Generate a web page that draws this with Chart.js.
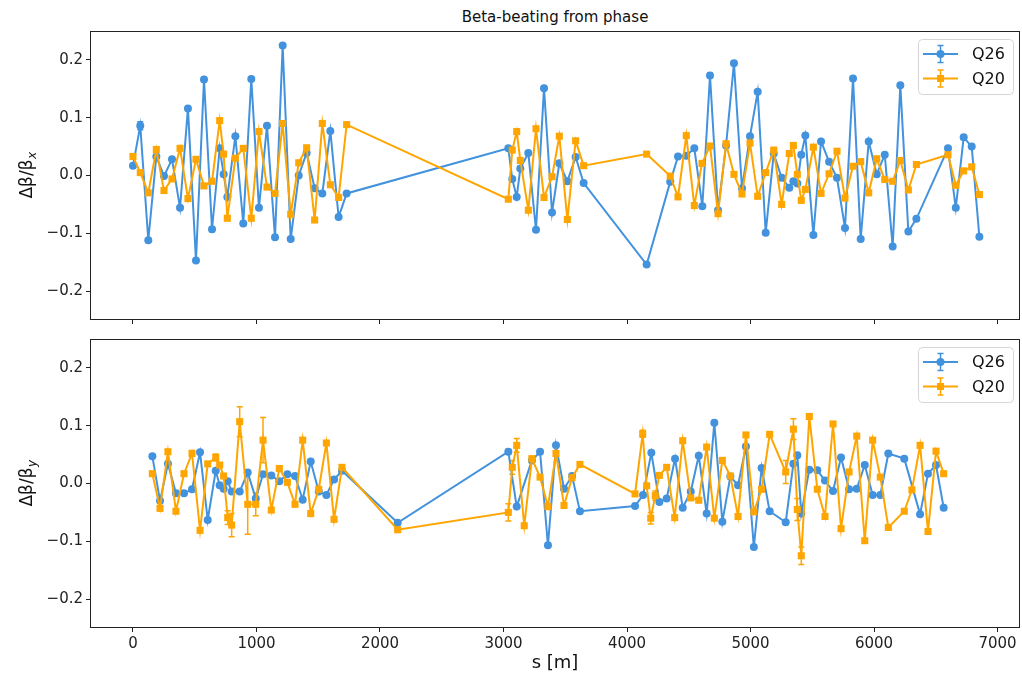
<!DOCTYPE html>
<html>
<head>
<meta charset="utf-8">
<script src="https://cdn.jsdelivr.net/npm/chart.js@4.4.1/dist/chart.umd.min.js"></script>
<style>
html,body{margin:0;padding:0;background:#fff;}
#wrap{position:relative;width:1022px;height:680px;overflow:hidden;font-family:"DejaVu Sans",sans-serif;}
#title{position:absolute;left:90px;width:930px;top:7px;line-height:20px;text-align:center;font-size:15px;color:#111;}
canvas{position:absolute;left:0;}
#c1{top:0;}
#c2{top:330px;}
</style>
</head>
<body>
<div id="wrap">
  <div id="title">Beta-beating from phase</div>
  <canvas id="c1" width="1025" height="330"></canvas>
  <canvas id="c2" width="1025" height="350"></canvas>
</div>
<script>
// ---------- data ----------
const xTicks = [0, 1000, 2000, 3000, 4000, 5000, 6000, 7000];
const yTicks = [-0.2, -0.1, 0.0, 0.1, 0.2];
const seriesNames = ['Q26', 'Q20'];

// horizontal plane (top)
const sX_Q26 = [0,59,124,189,251,316,381,445,510,575,640,702,734,764,829,893,958,1020,1085,1150,1212,1277,1342,1406,1471,1533,1598,1665,1730,
  3039,3071,3107,3136,3201,3263,3328,3393,3452,3517,3584,3649,4159,4350,4413,4480,4545,4610,4672,4737,4802,4866,4931,4996,5058,5123,5188,5252,
  5314,5347,5379,5411,5444,5509,5571,5636,5700,5765,5830,5892,5957,6022,6087,6151,6213,6278,6343,6599,6662,6726,6791,6853];
const bX_Q26 = [0.017,0.086,-0.112,0.033,-0.001,0.028,-0.056,0.116,-0.147,0.166,-0.093,0.047,0.002,-0.037,0.068,-0.083,0.167,-0.056,0.086,-0.107,0.225,-0.110,0.000,0.039,-0.022,-0.031,0.077,-0.072,-0.031,
  0.047,-0.006,-0.037,0.012,0.039,-0.094,0.151,-0.064,0.021,-0.010,0.032,-0.013,-0.154,-0.011,0.033,0.034,0.047,-0.053,0.173,-0.060,0.052,0.194,-0.022,0.068,0.145,-0.099,0.038,-0.004,
  -0.021,-0.010,-0.014,0.036,0.069,-0.103,0.059,0.024,-0.004,-0.091,0.168,-0.110,0.059,0.002,0.036,-0.123,0.156,-0.097,-0.075,0.047,-0.056,0.066,0.050,-0.106];
const sX_Q20 = [0,59,124,189,251,316,381,445,510,575,640,702,734,764,829,893,958,1020,1085,1150,1212,1277,1342,1406,1471,1533,1598,1665,1730,
  3039,3071,3107,3136,3201,3263,3328,3393,3452,3517,3584,3649,4159,4350,4413,4480,4545,4607,4672,4737,4802,4866,4931,4996,5058,5123,5188,5252,
  5314,5347,5379,5411,5444,5509,5571,5636,5700,5765,5830,5892,5957,6022,6087,6151,6213,6278,6343,6599,6662,6726,6791,6853];
const bX_Q20 = [0.033,0.005,-0.030,0.045,-0.026,-0.006,0.047,-0.040,0.028,-0.018,-0.010,0.095,0.037,-0.074,0.030,0.047,-0.074,0.076,-0.020,-0.031,0.090,-0.067,0.022,0.048,-0.077,0.090,-0.016,-0.038,0.088,
  -0.041,0.044,0.076,0.026,-0.060,0.081,-0.038,-0.002,0.068,-0.076,0.060,0.017,0.037,-0.001,-0.037,0.069,-0.052,0.021,0.051,-0.066,0.055,0.002,-0.032,0.056,-0.036,0.005,0.044,-0.050,
  0.038,0.052,0.002,-0.043,-0.024,0.049,-0.031,0.003,0.042,-0.039,0.016,0.024,-0.030,0.029,-0.007,-0.010,0.026,-0.025,0.019,0.036,-0.017,0.008,0.015,-0.033];

// vertical plane (bottom)
const sY_Q26 = [157,219,283,348,413,478,543,605,670,702,734,767,799,864,929,994,1053,1120,1185,1250,1312,1374,1439,1504,1566,1628,1692,2143,
  3039,3107,3230,3296,3360,3425,3490,3555,3619,4065,4130,4197,4262,4321,4389,4451,4516,4581,4645,4707,4772,4837,4899,4963,5027,5090,5155,5285,
  5347,5379,5411,5476,5541,5603,5668,5733,5798,5860,5925,5989,6051,6116,6245,6373,6437,6502,6564];
const bY_Q26 = [0.047,-0.030,0.034,-0.017,-0.017,-0.010,0.054,-0.063,0.022,-0.003,-0.009,0.004,-0.014,-0.014,0.019,-0.026,0.016,0.014,0.004,0.016,0.013,-0.028,0.038,-0.014,-0.020,0.007,0.022,-0.068,
  0.055,-0.040,0.040,0.055,-0.107,0.066,-0.009,0.013,-0.048,-0.039,-0.020,0.053,-0.032,-0.026,0.043,-0.042,-0.014,0.048,-0.052,0.105,-0.066,0.012,-0.003,0.064,-0.110,0.027,-0.048,-0.067,
  0.034,0.049,-0.052,0.024,0.023,0.005,-0.013,0.045,-0.010,-0.009,0.032,-0.020,-0.020,0.052,0.043,-0.053,0.017,0.032,-0.042];
const sY_Q20 = [157,219,283,348,413,478,543,605,670,702,734,767,799,864,929,994,1053,1120,1185,1250,1312,1374,1439,1504,1566,1628,1692,2143,
  3039,3071,3107,3168,3230,3296,3360,3425,3490,3555,3619,4065,4127,4159,4192,4229,4262,4321,4386,4451,4516,4581,4645,4707,4772,4837,4899,4963,5027,5090,5155,5285,
  5347,5379,5411,5476,5541,5603,5668,5733,5798,5860,5925,5989,6051,6116,6245,6307,6373,6437,6502,6564];
const bY_Q20 = [0.017,-0.043,0.055,-0.048,0.017,0.052,-0.081,0.034,0.045,0.032,0.013,-0.059,-0.072,0.107,-0.036,-0.036,0.075,-0.046,0.026,0.002,-0.036,0.075,-0.052,-0.010,0.070,-0.062,0.028,-0.080,
  -0.050,0.028,0.066,-0.073,0.043,0.011,-0.040,0.052,-0.038,0.010,0.033,-0.018,0.086,-0.004,-0.060,-0.021,0.014,0.028,-0.059,0.074,-0.025,-0.029,0.063,-0.060,0.040,0.013,-0.057,0.084,-0.049,-0.010,0.085,0.020,
  0.094,-0.045,-0.125,0.116,-0.010,-0.057,0.103,-0.078,0.020,0.082,-0.099,0.075,0.011,-0.076,-0.048,-0.011,0.066,-0.083,0.056,0.017];

// visible error bars: [s, error]
const errX_Q26 = [[59,0.007],[640,0.004],[4672,0.004]];
const errX_Q20 = [[4672,0.003]];
const errY_Q26 = [[3039,0.004]];
const errY_Q20 = [[478,0.005],[670,0.006],[767,0.012],[799,0.020],[864,0.026],[929,0.052],[994,0.020],[1053,0.039],
  [3039,0.015],[3071,0.012],[3107,0.012],[4127,0.006],[4192,0.010],[4229,0.008],[5285,0.020],[5347,0.018],[5379,0.019],[5411,0.015]];

// ---------- styling ----------
const BLUE = 'rgb(66,146,222)';
const ORANGE = 'rgb(255,165,0)';
const FONT = '"DejaVu Sans", sans-serif';
const AXC = '#222';

function pts(s, b){ return s.map((x,i)=>({x:x, y:b[i]})); }
function fmtY(v){ const a=Math.abs(v).toFixed(1); return (v < -1e-9 ? '\u2212' : '') + a; }
function zeroPad(sc){ sc.paddingTop = 0; sc.paddingBottom = 0; sc.paddingLeft = 0; sc.paddingRight = 0; }

const decor = {
  id: 'decor',
  beforeDatasetsDraw(chart){
    const ctx = chart.ctx, xs = chart.scales.x, ys = chart.scales.y;
    chart.data.datasets.forEach(ds => {
      if (!ds.errs) return;
      ctx.save();
      ctx.strokeStyle = ds.borderColor; ctx.lineWidth = 1.5;
      ds.errs.forEach(([s,e]) => {
        const p = ds.data.find(d => d.x === s); if (!p) return;
        const x = xs.getPixelForValue(s), y1 = ys.getPixelForValue(p.y - e), y2 = ys.getPixelForValue(p.y + e);
        ctx.beginPath();
        ctx.moveTo(x, y1); ctx.lineTo(x, y2);
        ctx.moveTo(x-3, y1); ctx.lineTo(x+3, y1);
        ctx.moveTo(x-3, y2); ctx.lineTo(x+3, y2);
        ctx.stroke();
      });
      ctx.restore();
    });
  },
  afterDraw(chart, args, o){
    const ctx = chart.ctx, a = chart.chartArea;
    ctx.save();
    // frame
    ctx.strokeStyle = AXC; ctx.lineWidth = 1;
    ctx.strokeRect(Math.round(a.left)+0.5, Math.round(a.top)+0.5, Math.round(a.right-a.left)-1, Math.round(a.bottom-a.top)-1);
    // y label with subscript
    const cy = (a.top + a.bottom)/2, cx = 28;
    ctx.translate(cx, cy); ctx.rotate(-Math.PI/2);
    ctx.fillStyle = '#111'; ctx.textBaseline = 'middle'; ctx.textAlign = 'left';
    const mainF = '17px ' + FONT, subF = 'italic 12px ' + FONT;
    ctx.font = mainF; const w1 = ctx.measureText('\u0394\u03b2/\u03b2').width;
    ctx.font = subF; const w2 = ctx.measureText(o.sub).width;
    const x0 = -(w1 + w2)/2;
    ctx.font = mainF; ctx.fillText('\u0394\u03b2/\u03b2', x0, 0);
    ctx.font = subF; ctx.fillText(o.sub, x0 + w1 + 0.5, 5);
    ctx.restore();
    // x label
    if (o.xlabel){
      ctx.save(); ctx.fillStyle = '#111'; ctx.font = '18px ' + FONT; ctx.textAlign = 'center'; ctx.textBaseline = 'middle';
      ctx.fillText(o.xlabel, (a.left + a.right)/2, o.xlabelY);
      ctx.restore();
    }
    // legend
    ctx.save();
    const W = 95, H = 55, L = a.right - 7 - W, T = a.top + 8;
    ctx.beginPath();
    if (ctx.roundRect) ctx.roundRect(L+0.5, T+0.5, W, H, 4); else ctx.rect(L+0.5, T+0.5, W, H);
    ctx.fillStyle = 'rgba(255,255,255,0.85)'; ctx.fill();
    ctx.strokeStyle = '#d6d6d6'; ctx.lineWidth = 1; ctx.stroke();
    const ents = [[seriesNames[0], BLUE, 'circle', 15], [seriesNames[1], ORANGE, 'rect', 39.5]];
    ents.forEach(([name, col, shape, dy]) => {
      const y = T + dy, mx = L + 22.5;
      ctx.strokeStyle = col; ctx.fillStyle = col; ctx.lineWidth = 2;
      ctx.beginPath(); ctx.moveTo(L+5, y); ctx.lineTo(L+40, y); ctx.stroke();
      ctx.lineWidth = 1.5; ctx.beginPath();
      ctx.moveTo(mx, y-8.5); ctx.lineTo(mx, y+8.5);
      ctx.moveTo(mx-3, y-8.5); ctx.lineTo(mx+3, y-8.5);
      ctx.moveTo(mx-3, y+8.5); ctx.lineTo(mx+3, y+8.5);
      ctx.stroke();
      ctx.beginPath();
      if (shape === 'circle') ctx.arc(mx, y, 4, 0, Math.PI*2); else ctx.rect(mx-3.5, y-3.5, 7, 7);
      ctx.fill();
      ctx.fillStyle = '#111'; ctx.font = '16px ' + FONT; ctx.textBaseline = 'middle'; ctx.textAlign = 'left';
      ctx.fillText(name, L + 54, y + 1);
    });
    ctx.restore();
  }
};

function makeChart(id, s26, b26, e26, s20, b20, e20, opt){
  return new Chart(document.getElementById(id), {
    type: 'line',
    data: { datasets: [
      { label: seriesNames[0], data: pts(s26, b26), errs: e26, borderColor: BLUE, backgroundColor: BLUE, borderWidth: 2,
        pointStyle: 'circle', pointRadius: 4, pointBorderWidth: 0, tension: 0, order: 1 },
      { label: seriesNames[1], data: pts(s20, b20), errs: e20, borderColor: ORANGE, backgroundColor: ORANGE, borderWidth: 2,
        pointStyle: 'rect', pointRadius: 5, pointBorderWidth: 0, tension: 0, order: 0 }
    ]},
    options: {
      responsive: false, animation: false, devicePixelRatio: 1,
      layout: { padding: { top: opt.padTop, right: 2, left: 0, bottom: 0 } },
      plugins: { legend: { display: false }, tooltip: { enabled: false }, decor: opt.decor },
      scales: {
        x: { type: 'linear', min: -348, max: 7182,
          afterBuildTicks: sc => { sc.ticks = xTicks.map(v => ({ value: v })); },
          afterFit: sc => { sc.height = opt.xHeight; zeroPad(sc); },
          grid: { drawOnChartArea: false, drawTicks: true, tickLength: 4, color: AXC },
          border: { display: false },
          ticks: { display: opt.showX, font: { family: FONT, size: 15 }, color: '#222', padding: 3, maxRotation: 0,
                   callback: v => String(v) } },
        y: { type: 'linear', min: -0.25, max: 0.25,
          afterBuildTicks: sc => { sc.ticks = yTicks.map(v => ({ value: v })); },
          afterFit: sc => { sc.width = 90; zeroPad(sc); },
          grid: { drawOnChartArea: false, drawTicks: true, tickLength: 4, color: AXC },
          border: { display: false },
          ticks: { font: { family: FONT, size: 15 }, color: '#222', padding: 3, callback: v => fmtY(v) } }
      }
    },
    plugins: [decor]
  });
}

makeChart('c1', sX_Q26, bX_Q26, errX_Q26, sX_Q20, bX_Q20, errX_Q20,
  { padTop: 31, xHeight: 10, showX: false, decor: { sub: 'x' } });
makeChart('c2', sY_Q26, bY_Q26, errY_Q26, sY_Q20, bY_Q20, errY_Q20,
  { padTop: 9, xHeight: 52, showX: true, decor: { sub: 'y', xlabel: 's [m]', xlabelY: 333 } });
</script>
</body>
</html>
